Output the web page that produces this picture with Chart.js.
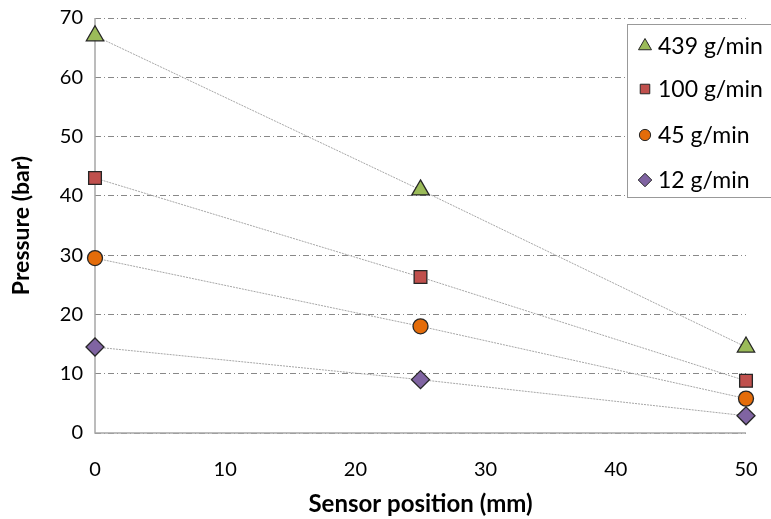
<!DOCTYPE html>
<html><head><meta charset="utf-8">
<script src="https://cdn.jsdelivr.net/npm/chart.js@4/dist/chart.umd.min.js"></script>
<style>html,body{margin:0;padding:0;background:#fff}#wrap{width:771px;height:519px}</style>
</head><body><div id="wrap"><canvas id="c" width="771" height="519"></canvas></div>
<script>
const positions = [0, 25, 50];
const seriesLabels = ['439 g/min', '100 g/min', '45 g/min', '12 g/min'];
const s439 = [67, 41, 14.5];
const s100 = [43, 26.3, 8.8];
const s45 = [29.5, 18, 5.8];
const s12 = [14.5, 9, 2.9];
const yTicks = [0, 10, 20, 30, 40, 50, 60, 70];
const xTicks = [0, 10, 20, 30, 40, 50];

const styles = [
  {pointStyle:'triangle', color:'#9BBB59', r:10},
  {pointStyle:'rect', color:'#C0504D', r:9},
  {pointStyle:'circle', color:'#E46C0A', r:7.5},
  {pointStyle:'rectRot', color:'#8064A2', r:9},
];
const allSeries = [s439, s100, s45, s12];
const FONT = 'Lato, "Open Sans", sans-serif';

const datasets = allSeries.map((s, i) => ({
  label: seriesLabels[i],
  data: positions.map((x, j) => ({x, y: s[j]})),
  showLine: true,
  clip: false,
  borderColor: '#a6a6a6',
  borderWidth: 1,
  borderDash: [2, 1],
  pointStyle: styles[i].pointStyle,
  pointRadius: styles[i].r,
  pointBackgroundColor: styles[i].color,
  pointBorderColor: '#262626',
  pointBorderWidth: 1.3,
  order: 4 - i
}));

const axisLinesPlugin = {
  id: 'axisLines',
  beforeDatasetsDraw(chart) {
    const {ctx, chartArea: a} = chart;
    ctx.save();
    ctx.strokeStyle = '#a6a6a6';
    ctx.lineWidth = 1.5;
    ctx.setLineDash([]);
    ctx.beginPath();
    ctx.moveTo(a.left, a.top);
    ctx.lineTo(a.left, a.bottom);
    ctx.lineTo(a.right, a.bottom);
    ctx.stroke();
    ctx.restore();
  }
};

const legendPlugin = {
  id: 'boxLegend',
  afterDraw(chart) {
    const ctx = chart.ctx;
    ctx.save();
    ctx.fillStyle = '#fff';
    ctx.strokeStyle = '#999';
    ctx.lineWidth = 1;
    ctx.setLineDash([]);
    ctx.fillRect(627.5, 24.5, 150, 173);
    ctx.strokeRect(627.5, 24.5, 150, 173);
    const rows = [46, 89, 135, 180];
    seriesLabels.forEach((lab, i) => {
      const st = styles[i];
      ctx.fillStyle = st.color;
      ctx.strokeStyle = '#262626';
      ctx.lineWidth = 1;
      Chart.helpers.drawPoint(ctx, {pointStyle: st.pointStyle, radius: st.r * 0.75, rotation: 0, borderWidth: 1}, 645, rows[i]);
      ctx.fillStyle = '#000';
      ctx.font = '23px ' + FONT;
      ctx.textBaseline = 'middle';
      ctx.textAlign = 'left';
      ctx.fillText(lab, 658, rows[i] + 1);
    });
    ctx.restore();
  }
};

new Chart(document.getElementById('c'), {
  type: 'scatter',
  data: { datasets },
  options: {
    responsive: false,
    animation: false,
    layout: { padding: { left: 0, right: 25, top: 18, bottom: 0 } },
    plugins: { legend: { display: false }, tooltip: { enabled: false } },
    scales: {
      x: {
        type: 'linear', min: 0, max: 50,
        afterBuildTicks(axis) { axis.ticks = xTicks.map(v => ({value: v})); },
        afterFit(axis) { axis.height = 86; axis.paddingRight = 0; axis.paddingLeft = 0; },
        grid: { display: false, drawTicks: false },
        border: { display: false },
        ticks: { color: '#000', font: { family: FONT, size: 20 }, padding: 25, maxRotation: 0 },
        title: { display: true, text: 'Sensor position (mm)', color: '#000', font: { family: FONT, size: 24, weight: 'bold' }, padding: { top: 2, bottom: 0 } }
      },
      y: {
        type: 'linear', min: 0, max: 70,
        afterBuildTicks(axis) { axis.ticks = yTicks.map(v => ({value: v})); },
        afterFit(axis) { axis.width = 95; axis.paddingTop = 0; axis.paddingBottom = 0; },
        grid: { color: '#888', lineWidth: 1, drawTicks: false },
        border: { display: false, dash: [6, 3, 1, 3] },
        ticks: { color: '#000', font: { family: FONT, size: 20 }, padding: 12 },
        title: { display: true, text: 'Pressure (bar)', color: '#000', font: { family: FONT, size: 23, weight: 'bold' }, padding: { top: 8, bottom: 6 } }
      }
    }
  },
  plugins: [axisLinesPlugin, legendPlugin]
});
</script></body></html>
